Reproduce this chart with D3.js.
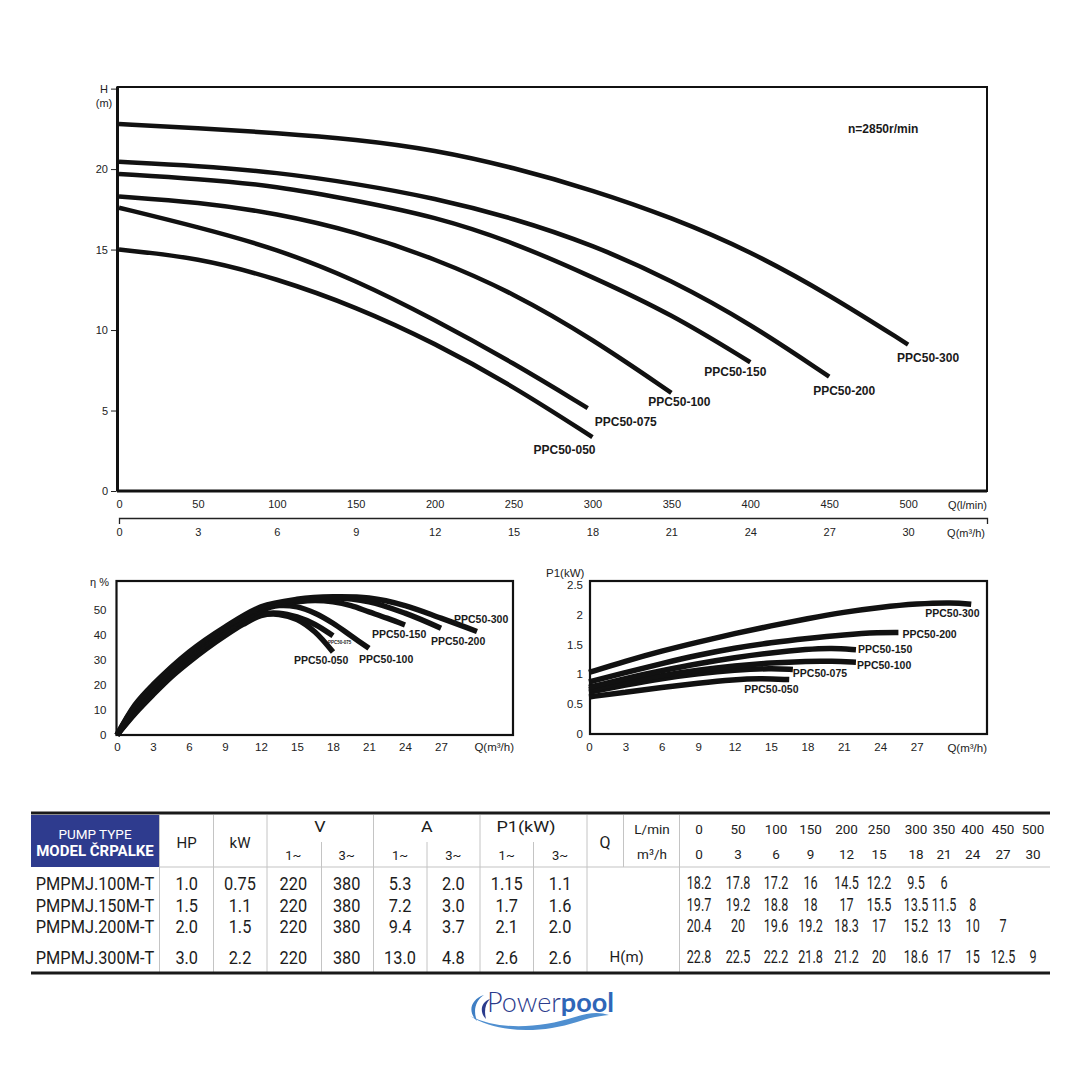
<!DOCTYPE html>
<html>
<head>
<meta charset="utf-8">
<script src="https://cdn.jsdelivr.net/npm/d3@7"></script>
<style>
  html, body { margin: 0; padding: 0; background: #fff; }
  svg { display: block; font-family: "Liberation Sans", Arial, sans-serif; }
</style>
</head>
<body>
<script>
// ---------- data ----------
const models = ['PPC50-050', 'PPC50-075', 'PPC50-100', 'PPC50-150', 'PPC50-200', 'PPC50-300'];

// H-Q curves as drawn in the chart, head (m) vs Q (l/min)
const qLmin = [0, 50, 100, 150, 200, 250, 300, 350, 400, 450, 500];
const qM3h = [0, 3, 6, 9, 12, 15, 18, 21, 24, 27, 30];
const curveQ075 = [0, 50, 100, 150, 200, 250, 297];
const curve050 = [15.0, 14.5, 13.2, 11.45, 9.2, 6.5, 3.35];
const curve075 = [17.6, 16.4, 15.05, 13.1, 10.65, 7.95, 5.15];
const curve100 = [18.3, 17.95, 17.25, 16.1, 14.45, 12.3, 9.45, 6.1];
const curve150 = [19.7, 19.4, 18.95, 18.05, 17.05, 15.45, 13.3, 11.0, 8.0];
const curve200 = [20.45, 20.2, 19.8, 19.1, 18.2, 16.95, 15.3, 13.1, 10.4, 7.1];
const curve300 = [22.8, 22.55, 22.25, 21.85, 21.2, 20.1, 18.7, 17.0, 14.9, 12.2, 9.1];

// table heads, H (m) at qLmin[i]
const head100 = [18.2, 17.8, 17.2, 16, 14.5, 12.2, 9.5, 6];
const head150 = [19.7, 19.2, 18.8, 18, 17, 15.5, 13.5, 11.5, 8];
const head200 = [20.4, 20, 19.6, 19.2, 18.3, 17, 15.2, 13, 10, 7];
const head300 = [22.8, 22.5, 22.2, 21.8, 21.2, 20, 18.6, 17, 15, 12.5, 9];

// efficiency curves, eta (%) vs Q (m3/h)
const effQ050 = [0, 1.5, 3, 4.5, 6, 7.5, 9, 10.5, 12, 13.5, 15, 16.5, 18];
const eff050 = [0, 8.5, 16, 23, 29, 34.5, 39.5, 44, 47.5, 48, 46, 41, 33];
const effQ075 = [0, 1.5, 3, 4.5, 6, 7.5, 9, 10.5, 12, 13.5, 15, 16.5, 18];
const eff075 = [0, 9, 16.5, 23.5, 29.5, 35, 40, 44.5, 48, 48.5, 47, 44, 39.5];
const effQ100 = [0, 1.5, 3, 4.5, 6, 7.5, 9, 10.5, 12, 13.5, 15, 16.5, 18, 19.5, 21];
const eff100 = [0, 10, 17.5, 24.5, 30.5, 36, 41, 45.5, 49.5, 51.5, 51, 48.5, 44.5, 39.5, 34.5];
const effQ150 = [0, 1.5, 3, 4.5, 6, 7.5, 9, 10.5, 12, 13.5, 15, 16.5, 18, 19.5, 21, 22.5, 24];
const eff150 = [0, 10.5, 18, 25, 31, 36.5, 41.5, 46, 50, 52, 53, 53.5, 53, 51.5, 49, 46.5, 43.8];
const effQ200 = [0, 1.5, 3, 6, 9, 12, 15, 18, 21, 24, 27];
const eff200 = [0, 11.5, 19, 32, 42.5, 50.5, 53.5, 54.5, 53, 48.5, 42.5];
const effQ300 = [0, 1.5, 3, 6, 9, 12, 15, 18, 21, 24, 27, 30];
const eff300 = [0, 12, 20, 33, 43, 51, 54, 55, 54.5, 51.5, 46.5, 41.2];

// power curves, P1 (kW) vs Q (m3/h)
const powQ050 = [0, 3, 6, 9, 12, 14, 16.5];
const pow050 = [0.62, 0.7, 0.78, 0.85, 0.91, 0.93, 0.91];
const powQ075 = [0, 3, 6, 9, 12, 15, 16.8];
const pow075 = [0.7, 0.82, 0.93, 1.01, 1.07, 1.1, 1.08];
const powQ100 = [0, 3, 6, 9, 12, 15, 18, 20, 22];
const pow100 = [0.74, 0.87, 0.98, 1.07, 1.14, 1.19, 1.22, 1.22, 1.2];
const powQ150 = [0, 3, 6, 9, 12, 15, 18, 20, 22];
const pow150 = [0.78, 0.93, 1.06, 1.18, 1.28, 1.36, 1.42, 1.44, 1.41];
const powQ200 = [0, 3, 6, 9, 12, 15, 18, 21, 24, 25.5];
const pow200 = [0.87, 1.03, 1.18, 1.32, 1.44, 1.53, 1.6, 1.66, 1.7, 1.7];
const powQ300 = [0, 3, 6, 9, 12, 15, 18, 21, 24, 27, 30, 31.5];
const pow300 = [1.03, 1.22, 1.39, 1.54, 1.68, 1.81, 1.93, 2.04, 2.12, 2.18, 2.2, 2.17];

// tick labels
const headTicks = [0, 5, 10, 15, 20, 25];
const effTicks = [0, 10, 20, 30, 40, 50];
const powTicks = [0, 0.5, 1, 1.5, 2, 2.5];
const smallQTicks = [0, 3, 6, 9, 12, 15, 18, 21, 24, 27];

// table
const pumpTypes = ['PMPMJ.100M-T', 'PMPMJ.150M-T', 'PMPMJ.200M-T', 'PMPMJ.300M-T'];
const hpVals = ['1.0', '1.5', '2.0', '3.0'];
const kwVals = ['0.75', '1.1', '1.5', '2.2'];
const volt1 = ['220', '220', '220', '220'];
const volt3 = ['380', '380', '380', '380'];
const amp1 = ['5.3', '7.2', '9.4', '13.0'];
const amp3 = ['2.0', '3.0', '3.7', '4.8'];
const p1One = ['1.15', '1.7', '2.1', '2.6'];
const p1Three = ['1.1', '1.6', '2.0', '2.6'];
const tableHeads = [head100, head150, head200, head300];

// ---------- drawing ----------
const W = 1080, H = 1080;
const svg = d3.select('body').append('svg').attr('width', W).attr('height', H);
const ink = '#111';

function zip(xs, ys) { return ys.map((v, i) => [xs[i], v]); }

function styleAxis(g, size) {
  g.attr('font-family', '"Liberation Sans", Arial, sans-serif')
   .attr('font-size', size)
   .attr('color', '#222');
  g.select('.domain').remove();
}

function curveLabels(g, series, x, y, offs, size) {
  series.forEach((s, i) => {
    const last = s[s.length - 1];
    g.append('text')
      .attr('x', x(last[0]) + offs[i][0])
      .attr('y', y(last[1]) + offs[i][1])
      .attr('dy', '0.35em')
      .attr('font-weight', 'bold')
      .attr('font-size', offs[i][2] || size)
      .attr('fill', '#1a1a1a')
      .text(models[i]);
  });
}

// ===== H-Q chart =====
const xH = d3.scaleLinear().domain([0, 550]).range([119, 987]);
const xH2 = d3.scaleLinear().domain([0, 33]).range([119, 987]);
const yH = d3.scaleLinear().domain([0, 25.1]).range([491, 87]);

const gH = svg.append('g');
gH.append('rect').attr('x', 117.5).attr('y', yH(25.1)).attr('width', 987 - 117.5)
  .attr('height', yH(0) - yH(25.1)).attr('fill', 'none').attr('stroke', ink).attr('stroke-width', 2);
gH.append('line').attr('x1', 117.5).attr('x2', 117.5).attr('y1', yH(25.1)).attr('y2', yH(0))
  .attr('stroke', ink).attr('stroke-width', 3);
gH.append('line').attr('x1', 117).attr('x2', 987).attr('y1', yH(0)).attr('y2', yH(0))
  .attr('stroke', ink).attr('stroke-width', 3);

gH.append('g').attr('transform', 'translate(116,0)')
  .call(d3.axisLeft(yH).tickValues(headTicks).tickSize(5).tickPadding(3)
    .tickFormat(d => d === 25 ? 'H' : d))
  .call(g => styleAxis(g, 11));
gH.append('text').attr('x', 104).attr('y', 107).attr('text-anchor', 'middle')
  .attr('font-size', 11).attr('fill', '#222').text('(m)');

gH.append('g').attr('transform', `translate(0,${yH(0)})`)
  .call(d3.axisBottom(xH).tickValues(qLmin).tickSize(0).tickPadding(9.5))
  .call(g => styleAxis(g, 11));
const ax2 = gH.append('g').attr('transform', 'translate(0,518)')
  .call(d3.axisBottom(xH2).tickValues(qM3h).tickSizeInner(0).tickSizeOuter(6).tickPadding(10.5));
ax2.attr('font-family', '"Liberation Sans", Arial, sans-serif').attr('font-size', 11).attr('color', '#222');
ax2.select('.domain').attr('stroke-width', 1.3);

gH.append('text').attr('x', 987).attr('y', 509).attr('text-anchor', 'end')
  .attr('font-size', 11).attr('fill', '#222').text('Q(l/min)');
gH.append('text').attr('x', 985).attr('y', 537).attr('text-anchor', 'end')
  .attr('font-size', 11).attr('fill', '#222').text('Q(m³/h)');
gH.append('text').attr('x', 848).attr('y', 133).attr('font-size', 12)
  .attr('font-weight', 'bold').attr('fill', '#1a1a1a').text('n=2850r/min');

const headSeries = [zip(qLmin, curve050), zip(curveQ075, curve075), zip(qLmin, curve100),
  zip(qLmin, curve150), zip(qLmin, curve200), zip(qLmin, curve300)];
const lineH = d3.line().x(d => xH(d[0])).y(d => yH(d[1])).curve(d3.curveBasis);
gH.selectAll('path.hq').data(headSeries).join('path').attr('class', 'hq')
  .attr('d', lineH).attr('fill', 'none').attr('stroke', ink).attr('stroke-width', 4.5);
curveLabels(gH, headSeries, xH, yH,
  [[-59, 13], [7, 14], [-23, 9], [-46, 10], [-16, 14], [-11, 13]], 12);

// ===== efficiency chart =====
const xE = d3.scaleLinear().domain([0, 33]).range([117, 513]);
const yE = d3.scaleLinear().domain([0, 61.3]).range([735, 581]);
const gE = svg.append('g');
gE.append('rect').attr('x', 116.5).attr('y', yE(61.3)).attr('width', 513 - 116.5)
  .attr('height', yE(0) - yE(61.3)).attr('fill', 'none').attr('stroke', ink).attr('stroke-width', 2.2);
gE.append('g').attr('transform', 'translate(116.5,0)')
  .call(d3.axisLeft(yE).tickValues(effTicks).tickSize(0).tickPadding(10))
  .call(g => styleAxis(g, 11.5));
gE.append('g').attr('transform', `translate(0,${yE(0)})`)
  .call(d3.axisBottom(xE).tickValues(smallQTicks).tickSize(0).tickPadding(7.5))
  .call(g => styleAxis(g, 11.5));
gE.append('text').attr('x', 90).attr('y', 586).attr('font-size', 11).attr('fill', '#222').text('η %');
gE.append('text').attr('x', 514).attr('y', 751).attr('text-anchor', 'end')
  .attr('font-size', 11.5).attr('fill', '#222').text('Q(m³/h)');

const effSeries = [zip(effQ050, eff050), zip(effQ075, eff075), zip(effQ100, eff100),
  zip(effQ150, eff150), zip(effQ200, eff200), zip(effQ300, eff300)];
const lineE = d3.line().x(d => xE(d[0])).y(d => yE(d[1])).curve(d3.curveCatmullRom.alpha(0.5));
gE.selectAll('path.eff').data(effSeries).join('path').attr('class', 'eff')
  .attr('d', lineE).attr('fill', 'none').attr('stroke', ink).attr('stroke-width', 5.5);
curveLabels(gE, effSeries, xE, yE,
  [[-39, 8], [-5, 6.5, 4.5], [-10, 11], [-33, 9], [-10, 13], [-23, -12]], 10.5);

// ===== power chart =====
const xP = d3.scaleLinear().domain([0, 32.8]).range([589, 987]);
const yP = d3.scaleLinear().domain([0, 2.56]).range([734, 581]);
const gP = svg.append('g');
gP.append('rect').attr('x', 590).attr('y', yP(2.56)).attr('width', 987 - 590)
  .attr('height', yP(0) - yP(2.56)).attr('fill', 'none').attr('stroke', ink).attr('stroke-width', 2.2);
gP.append('g').attr('transform', 'translate(590,0)')
  .call(d3.axisLeft(yP).tickValues(powTicks).tickSize(0).tickPadding(7).tickFormat(d => d))
  .call(g => styleAxis(g, 11.5));
gP.append('g').attr('transform', `translate(0,${yP(0)})`)
  .call(d3.axisBottom(xP).tickValues(smallQTicks).tickSize(0).tickPadding(9))
  .call(g => styleAxis(g, 11.5));
gP.append('text').attr('x', 546).attr('y', 577).attr('font-size', 11.5).attr('fill', '#222').text('P1(kW)');
gP.append('text').attr('x', 987).attr('y', 752).attr('text-anchor', 'end')
  .attr('font-size', 11.5).attr('fill', '#222').text('Q(m³/h)');

const powSeries = [zip(powQ050, pow050), zip(powQ075, pow075), zip(powQ100, pow100),
  zip(powQ150, pow150), zip(powQ200, pow200), zip(powQ300, pow300)];
const lineP = d3.line().x(d => xP(d[0])).y(d => yP(d[1])).curve(d3.curveBasis);
gP.selectAll('path.pow').data(powSeries).join('path').attr('class', 'pow')
  .attr('d', lineP).attr('fill', 'none').attr('stroke', ink).attr('stroke-width', 5.5);
curveLabels(gP, powSeries, xP, yP,
  [[-45, 10], [0, 4], [1, 3], [2, 0], [4, 2], [-46, 9]], 10.5);

// ===== table =====
const tb = svg.append('g').attr('font-family', 'Roboto, "Open Sans", sans-serif');
const tLeft = 31, tRight = 1050, tTop = 813, tHeadBot = 867, tBot = 973;
const grey = '#c4c4c4';

function cell(x, y, s, size, sx, opts = {}) {
  tb.append('text')
    .attr('transform', `translate(${x},${y}) scale(${sx},1)`)
    .attr('text-anchor', opts.anchor || 'middle')
    .attr('dy', '0.35em')
    .attr('font-size', size)
    .attr('font-weight', opts.weight || 'normal')
    .attr('fill', opts.fill || '#1c1c1c')
    .text(s);
}

tb.append('rect').attr('x', tLeft).attr('y', tTop + 2).attr('width', 128).attr('height', tHeadBot - tTop - 2)
  .attr('fill', '#2e3b8e');
// grid
[159.5, 213.5, 267, 373.5, 480, 587, 679.5].forEach(x =>
  tb.append('line').attr('x1', x).attr('x2', x).attr('y1', tTop + 2).attr('y2', tBot)
    .attr('stroke', grey).attr('stroke-width', 1));
[321.5, 427, 533.5].forEach(x =>
  tb.append('line').attr('x1', x).attr('x2', x).attr('y1', 842).attr('y2', tBot)
    .attr('stroke', grey).attr('stroke-width', 1));
tb.append('line').attr('x1', 623.5).attr('x2', 623.5).attr('y1', tTop + 2).attr('y2', tHeadBot)
  .attr('stroke', grey).attr('stroke-width', 1);
tb.append('line').attr('x1', 159).attr('x2', tRight).attr('y1', tHeadBot).attr('y2', tHeadBot)
  .attr('stroke', grey).attr('stroke-width', 1.2);
tb.append('line').attr('x1', tLeft).attr('x2', tRight).attr('y1', tTop).attr('y2', tTop)
  .attr('stroke', '#1a1a1a').attr('stroke-width', 3.2);
tb.append('line').attr('x1', tLeft).attr('x2', tRight).attr('y1', tBot).attr('y2', tBot)
  .attr('stroke', '#1a1a1a').attr('stroke-width', 3.2);

// header
cell(95, 834, 'PUMP TYPE', 13.5, 1, { fill: '#fff' });
cell(95, 851, 'MODEL ČRPALKE', 15, 1, { fill: '#fff', weight: 'bold' });
cell(186.7, 843, 'HP', 15, 1);
cell(240, 843, 'kW', 15, 1);
cell(320, 827, 'V', 15.5, 1.15);
cell(426.7, 827, 'A', 15.5, 1.15);
cell(526, 827, 'P1(kW)', 15, 1.2);
const subX = [293.3, 346.7, 400, 453.3, 506.7, 560];
subX.forEach((x, i) => cell(x, 855, i % 2 ? '3~' : '1~', 13, 1));
cell(605, 842, 'Q', 16, 1);
cell(652, 829, 'L/min', 13.5, 1);
cell(652, 854, 'm³/h', 13.5, 1);

const qColX = [699, 738, 776, 810.5, 846.5, 879, 916, 944, 972.7, 1003, 1033];
qLmin.forEach((q, i) => cell(qColX[i], 829, String(q), 13.5, 1));
qM3h.forEach((q, i) => cell(qColX[i], 854, String(q), 13.5, 1));

// body
const rowY = [883, 905, 926, 957];
const leftCols = [pumpTypes, hpVals, kwVals, volt1, volt3, amp1, amp3, p1One, p1Three];
const leftX = [95, 186.7, 240, 293.3, 346.7, 400, 453.3, 506.7, 560];
leftCols.forEach((col, c) => col.forEach((v, r) => cell(leftX[c], rowY[r], v, 19, 0.86)));
tableHeads.forEach((row, r) => row.forEach((v, i) => cell(qColX[i], rowY[r], String(v), 17.5, 0.72)));
cell(626.7, rowY[3], 'H(m)', 15, 1);

// ===== logo =====
const lg = svg.append('g');
lg.append('path').attr('d', 'M470,1016 C500,1031 540,1028 575,1017 C590,1012 600,1012 609,1015 C598,1016 589,1018 577,1022 C540,1034 497,1033 470,1016 Z')
  .attr('fill', '#4f8fd0');
lg.append('path').attr('d', 'M484,995 C471,999 467,1012 477,1021 C473,1011 475,1001 484,995 Z').attr('fill', '#3f7fc4');
lg.append('path').attr('d', 'M490,999 C481,1002 479,1012 486,1019 C484,1011 485,1004 490,999 Z').attr('fill', '#2b3b8c');
const lt = lg.append('text').attr('x', 487).attr('y', 1012).attr('font-family', 'Lato, "Open Sans", sans-serif')
  .attr('font-size', 27);
lt.append('tspan').attr('fill', '#2b3b8c').attr('font-weight', 300).text('Power');
lt.append('tspan').attr('fill', '#2f66b8').attr('font-weight', 700).text('pool');
</script>
</body>
</html>
